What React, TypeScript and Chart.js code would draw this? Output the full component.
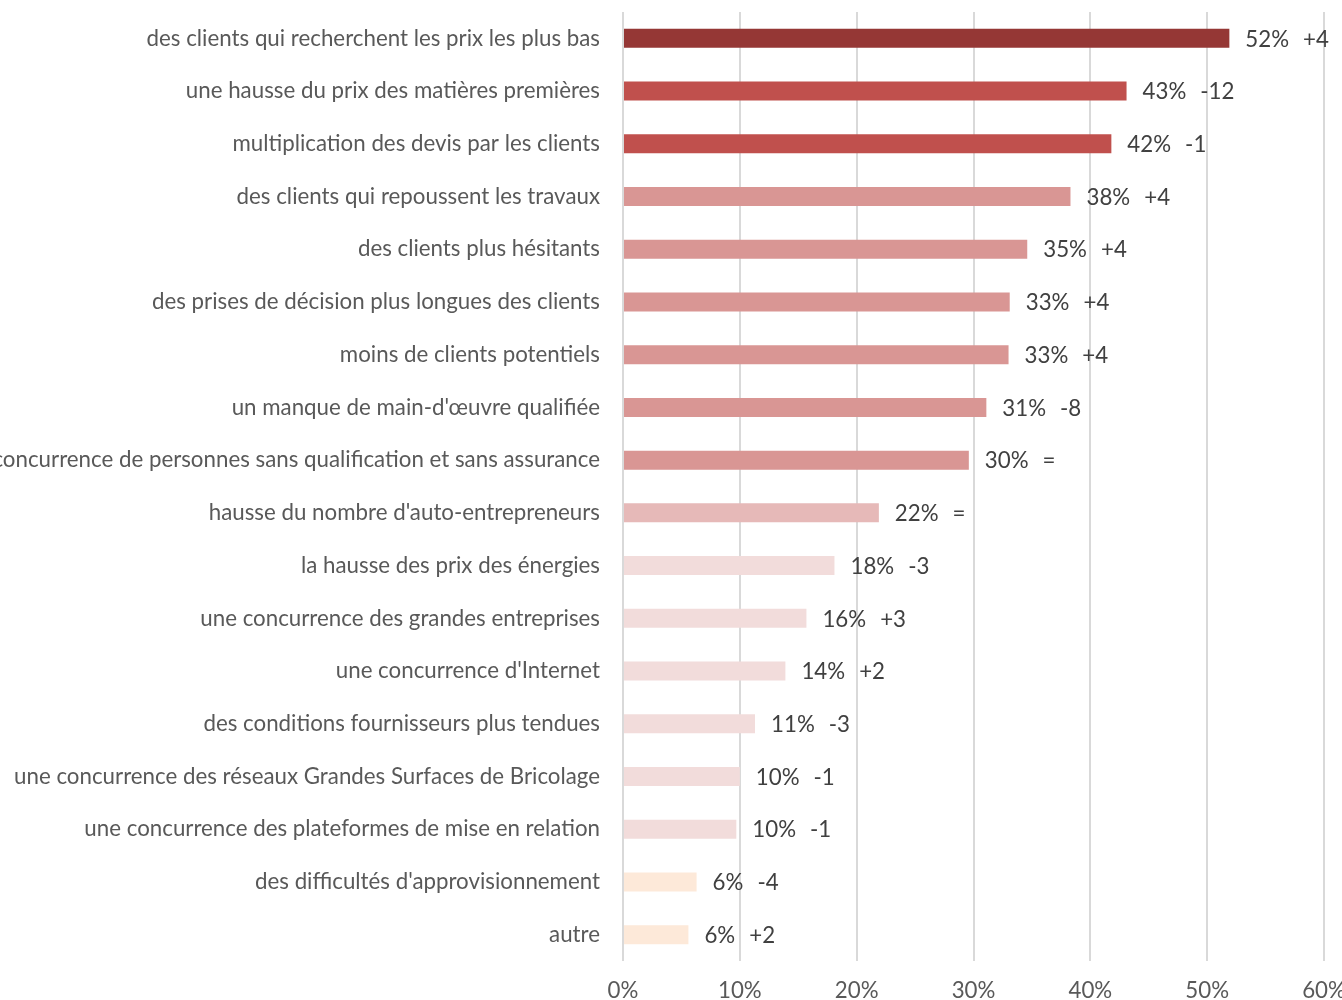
import React, { useEffect, useRef } from "react";
import { Chart, registerables } from "chart.js";

Chart.register(...registerables);

const categories = [
  "des clients qui recherchent les prix les plus bas",
  "une hausse du prix des matières premières",
  "multiplication des devis par les clients",
  "des clients qui repoussent les travaux",
  "des clients plus hésitants",
  "des prises de décision plus longues des clients",
  "moins de clients potentiels",
  "un manque de main-d'œuvre qualifiée",
  "une concurrence de personnes sans qualification et sans assurance",
  "hausse du nombre d'auto-entrepreneurs",
  "la hausse des prix des énergies",
  "une concurrence des grandes entreprises",
  "une concurrence d'Internet",
  "des conditions fournisseurs plus tendues",
  "une concurrence des réseaux Grandes Surfaces de Bricolage",
  "une concurrence des plateformes de mise en relation",
  "des difficultés d'approvisionnement",
  "autre",
];

const values = [51.9, 43.1, 41.8, 38.3, 34.6, 33.1, 33.0, 31.1, 29.6, 21.9, 18.1, 15.7, 13.9, 11.3, 10.0, 9.7, 6.3, 5.6];

const deltas = ["+4", "-12", "-1", "+4", "+4", "+4", "+4", "-8", "=", "=", "-3", "+3", "+2", "-3", "-1", "-1", "-4", "+2"];

const barColors = [
  "#953735",
  "#C0504D",
  "#C0504D",
  "#D99694",
  "#D99694",
  "#D99694",
  "#D99694",
  "#D99694",
  "#D99694",
  "#E6B9B8",
  "#F2DCDB",
  "#F2DCDB",
  "#F2DCDB",
  "#F2DCDB",
  "#F2DCDB",
  "#F2DCDB",
  "#FDE9D9",
  "#FDE9D9",
];

const xTicks = [0, 10, 20, 30, 40, 50, 60];

const FONT = "Lato";
const FONT_SIZE = 22.3;

const labelPlugin = {
  id: "barLabels",
  afterDatasetsDraw(chart: any) {
    const ctx = chart.ctx;
    const meta = chart.getDatasetMeta(0);
    ctx.save();
    ctx.font = `${FONT_SIZE}px ${FONT}`;
    ctx.fillStyle = "#404040";
    ctx.textBaseline = "middle";
    ctx.textAlign = "left";
    meta.data.forEach((bar: any, i: number) => {
      const pct = `${Math.round(values[i])}%`;
      const x = bar.x + 16;
      const y = bar.y + 1;
      ctx.fillText(pct, x, y);
      const w = ctx.measureText(pct).width;
      ctx.fillText(deltas[i], x + w + 14, y);
    });
    ctx.restore();
  },
};

export default function App() {
  const ref = useRef<HTMLCanvasElement | null>(null);

  useEffect(() => {
    document.body.style.margin = "0";
    if (!ref.current) return;
    const chart = new Chart(ref.current, {
      type: "bar",
      data: {
        labels: categories,
        datasets: [
          {
            data: values,
            backgroundColor: barColors,
            borderWidth: 0,
            barPercentage: 0.36,
            categoryPercentage: 1,
          },
        ],
      },
      options: {
        indexAxis: "y",
        responsive: false,
        animation: false,
        layout: { padding: { top: 12, right: 18, bottom: 0, left: 0 } },
        plugins: {
          legend: { display: false },
          tooltip: { enabled: false },
        },
        scales: {
          x: {
            min: 0,
            max: 60,
            afterBuildTicks: (scale: any) => {
              scale.ticks = xTicks.map((v) => ({ value: v }));
            },
            afterFit: (scale: any) => {
              scale.height = 39;
              scale.paddingLeft = 0;
              scale.paddingRight = 0;
            },
            grid: {
              color: "#D9D9D9",
              lineWidth: 2,
              drawTicks: false,
            },
            border: { display: false },
            ticks: {
              padding: 16,
              color: "#595959",
              font: { family: FONT, size: FONT_SIZE },
              callback: (v: any) => `${v}%`,
            },
          },
          y: {
            afterFit: (scale: any) => {
              scale.width = 623;
              scale.paddingTop = 0;
              scale.paddingBottom = 0;
            },
            grid: { display: false, drawTicks: false },
            border: { display: false },
            ticks: {
              padding: 23,
              autoSkip: false,
              color: "#595959",
              font: { family: FONT, size: FONT_SIZE },
            },
          },
        },
      },
      plugins: [labelPlugin],
    });
    return () => chart.destroy();
  }, []);

  return (
    <div style={{ position: "absolute", left: 0, top: 0, width: 1342, height: 1000 }}>
      <canvas ref={ref} width={1342} height={1000} style={{ display: "block" }} />
    </div>
  );
}
